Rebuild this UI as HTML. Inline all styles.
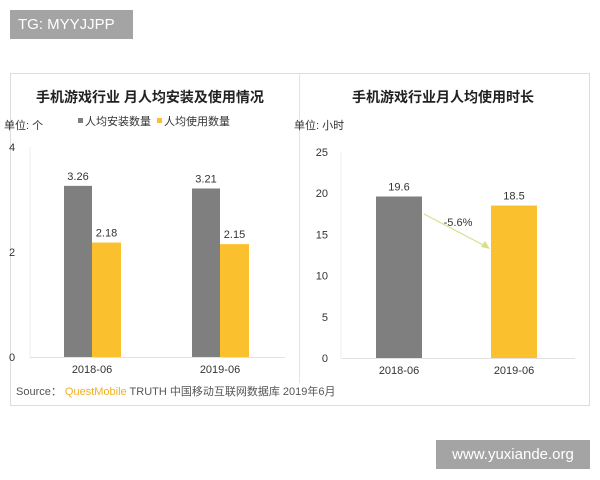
<!DOCTYPE html>
<html><head><meta charset="utf-8"><style>
body{margin:0;width:600px;height:480px;background:#fff;font-family:"Liberation Sans","Noto Sans CJK SC",sans-serif;position:relative;overflow:hidden}
.abs{position:absolute}
</style></head><body>
<div class="abs" style="left:10px;top:10px;width:123px;height:29px;background:#a4a4a4;color:#fff;font-size:15px;line-height:29px;text-indent:8px">TG: MYYJJPP</div>
<div class="abs" style="left:436px;top:440px;width:154px;height:29px;background:#a4a4a4;color:#fff;font-size:15px;line-height:29px;text-align:center">www.yuxiande.org</div>
<svg class="abs" style="left:0;top:0" width="600" height="480">
<rect x="10.5" y="73.5" width="579" height="332" fill="#fff" stroke="#ddd"/>
<line x1="299.5" y1="74" x2="299.5" y2="383" stroke="#e4e4e4"/>
<g id="left" font-size="11" fill="#333"></g>
<g id="right" font-size="11" fill="#333"></g>
<text x="16" y="395" font-size="11" fill="#555">Source： <tspan fill="#f0b020">QuestMobile</tspan> TRUTH 中国移动互联网数据库 2019年6月</text>
</svg>
<script>
const NS='http://www.w3.org/2000/svg';
function mk(p,t,a,txt){const e=document.createElementNS(NS,t);for(const k in a)e.setAttribute(k,a[k]);if(txt!==undefined)e.textContent=txt;p.appendChild(e);return e;}
const leftCats=['2018-06','2019-06'];
const installVals=[3.26,3.21];
const useVals=[2.18,2.15];
const leftTicks=[0,2,4];
const rightCats=['2018-06','2019-06'];
const hoursVals=[19.6,18.5];
const rightTicks=[0,5,10,15,20,25];
const changeLabel='-5.6%';
// left chart
const L=document.getElementById('left');
const ly=v=>357-v*52.5;
const lx=i=>92+i*128;
let t=mk(L,'text',{x:150,y:102,'text-anchor':'middle','font-size':14,'font-weight':'bold',fill:'#222'},'手机游戏行业 月人均安装及使用情况');

t=mk(L,'text',{x:4,y:129,'font-size':11},'单位: 个');

let r=mk(L,'rect',{x:78,y:118,width:5,height:5,fill:'#7f7f7f'});

t=mk(L,'text',{x:85,y:125},'人均安装数量');

r=mk(L,'rect',{x:157,y:118,width:5,height:5,fill:'#fbc02d'});

t=mk(L,'text',{x:164,y:125},'人均使用数量');

let ln=mk(L,'line',{x1:30,y1:147,x2:30,y2:357,stroke:'#eee'});

ln=mk(L,'line',{x1:30,y1:357.5,x2:285,y2:357.5,stroke:'#e2e2e2'});

leftTicks.forEach(v=>{const e=mk(L,'text',{x:12,y:ly(v)+4,'text-anchor':'middle'},v);
});
leftCats.forEach((c,i)=>{
 const b1=mk(L,'rect',{x:lx(i)-28,y:ly(installVals[i]),width:28,height:357-ly(installVals[i]),fill:'#7f7f7f'});
 
 const b2=mk(L,'rect',{x:lx(i),y:ly(useVals[i]),width:29,height:357-ly(useVals[i]),fill:'#fbc02d'});
 
 let e=mk(L,'text',{x:lx(i)-14,y:ly(installVals[i])-6,'text-anchor':'middle'},installVals[i].toFixed(2));
 
 e=mk(L,'text',{x:lx(i)+14.5,y:ly(useVals[i])-6,'text-anchor':'middle'},useVals[i].toFixed(2));
 
 e=mk(L,'text',{x:lx(i),y:373,'text-anchor':'middle'},c);
 
});
// right chart
const R=document.getElementById('right');
const ry=v=>358-v*8.24;
const rx=i=>399+i*115;
t=mk(R,'text',{x:443,y:102,'text-anchor':'middle','font-size':14,'font-weight':'bold',fill:'#222'},'手机游戏行业月人均使用时长');

t=mk(R,'text',{x:294,y:129,'font-size':11},'单位: 小时');

ln=mk(R,'line',{x1:341,y1:152,x2:341,y2:358,stroke:'#eee'});

ln=mk(R,'line',{x1:341,y1:358.5,x2:575,y2:358.5,stroke:'#e2e2e2'});

rightTicks.forEach(v=>{const e=mk(R,'text',{x:328,y:ry(v)+4,'text-anchor':'end'},v);
});
const cols=['#7f7f7f','#fbc02d'];
rightCats.forEach((c,i)=>{
 const b=mk(R,'rect',{x:rx(i)-23,y:ry(hoursVals[i]),width:46,height:358-ry(hoursVals[i]),fill:cols[i]});
 
 let e=mk(R,'text',{x:rx(i),y:ry(hoursVals[i])-6,'text-anchor':'middle'},hoursVals[i]);
 
 e=mk(R,'text',{x:rx(i),y:374,'text-anchor':'middle'},c);
 
});
const ar=mk(R,'line',{x1:424,y1:214,x2:487,y2:247,stroke:'#d8df8a','stroke-width':1.2});

const ah=mk(R,'polygon',{points:'490,249 481,247 485,241',fill:'#d8df8a'});

t=mk(R,'text',{x:458,y:226,'text-anchor':'middle'},changeLabel);

</script>
</body></html>
